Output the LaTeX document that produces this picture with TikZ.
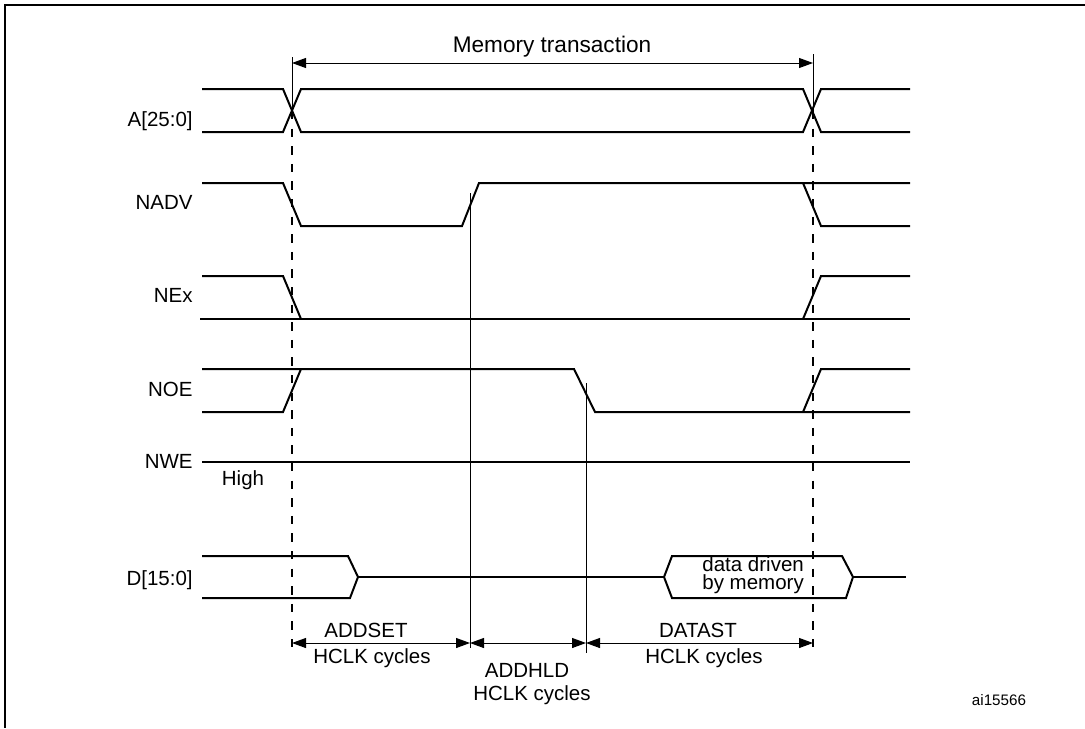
\documentclass[tikz,border=0pt]{standalone}
\usepackage{fontspec}
\setmainfont{Liberation Sans}
\usetikzlibrary{arrows.meta}

\begin{document}
\begin{tikzpicture}[x=0.5pt, y=-0.5pt,
    sig/.style={line width=1pt},
    tick/.style={line width=0.5pt},
    dashtick/.style={line width=0.6pt, dash pattern=on 4.2pt off 4.6pt},
    dim/.style={line width=0.5pt, {Triangle[length=7pt,width=5pt]}-{Triangle[length=7pt,width=5pt]}},
    lbl/.style={font=\fontsize{10.25}{12}\selectfont, inner sep=0pt}]
      \useasboundingbox (0,0) rectangle (1085,728);
      \draw[line width=0.7pt] (1085,5) -- (5,5) -- (5,728);
      % signal names
      \node [lbl, anchor=base east] (lA) at (193,126) {A[25:0]};
      \node [lbl, anchor=base east] (lNADV) at (193,209) {NADV};
      \node [lbl, anchor=base east] (lNEx) at (193,302) {NEx};
      \node [lbl, anchor=base east] (lNOE) at (193,396) {NOE};
      \node [lbl, anchor=base east] (lNWE) at (193,468) {NWE};
      \node [lbl, anchor=base] (lHigh) at (243,485) {High};
      \node [lbl, anchor=base east] (lD) at (193,585) {D[15:0]};
      % waveforms
      \draw[sig] (202,89) -- (283,89) -- (301,132) -- (803,132) -- (821,89) -- (910,89);
      \draw[sig] (202,132) -- (283,132) -- (301,89) -- (803,89) -- (821,132) -- (910,132);
      \draw[sig] (202,183) -- (283,183) -- (301,226) -- (462,226) -- (479,183) -- (910,183);
      \draw[sig] (803,183) -- (821,226) -- (910,226);
      \draw[sig] (202,276) -- (283,276) -- (301,319);
      \draw[sig] (200,319) -- (910,319);
      \draw[sig] (803,319) -- (821,276) -- (910,276);
      \draw[sig] (202,412) -- (283,412) -- (301,369);
      \draw[sig] (202,369) -- (574,369) -- (595,412) -- (910,412);
      \draw[sig] (803,412) -- (821,369) -- (910,369);
      \draw[sig] (202,462) -- (910,462);
      \draw[sig] (202,556) -- (348,556) -- (358,577) -- (350,598) -- (202,598);
      \draw[sig] (358,577) -- (664,577);
      \draw[sig] (664,577) -- (672,556) -- (842,556) -- (853,577) -- (846,598) -- (672,598) -- cycle;
      \draw[sig] (853,577) -- (906,577);
      \node [lbl, anchor=base west, align=left, font=\fontsize{10.25}{8.8}\selectfont] (ldata) at (702,589) {data driven\\by memory};
      % time markers
      \coordinate (t0top) at (292,57);  \coordinate (t0x) at (292,111);  \coordinate (t0bot) at (292,655);
      \coordinate (t3top) at (813,54);  \coordinate (t3x) at (813,111);  \coordinate (t3bot) at (813,649);
      \coordinate (t1top) at (470,193); \coordinate (t1bot) at (470,648);
      \coordinate (t2top) at (586,383); \coordinate (t2bot) at (586,653);
      \draw[tick] (t0top) -- (t0x);
      \draw[dashtick] (t0x) -- (t0bot);
      \draw[tick] (t3top) -- (t3x);
      \draw[dashtick] (t3x) -- (t3bot);
      \draw[tick] (t1top) -- (t1bot);
      \draw[tick] (t2top) -- (t2bot);
      % durations
      \coordinate (m0) at (292,63);  \coordinate (m1) at (813,63);
      \coordinate (s0) at (292,643); \coordinate (s1) at (470,643);
      \coordinate (s2) at (586,643); \coordinate (s3) at (813,643);
      \draw[dim] (m0) -- (m1);
      \draw[dim] (s0) -- (s1);
      \draw[dim] (s1) -- (s2);
      \draw[dim] (s2) -- (s3);
      \node [lbl, anchor=base, font=\fontsize{11.3}{13}\selectfont] (lmem) at (552,52) {Memory transaction};
      \node [lbl, anchor=base] (lset) at (366,637) {ADDSET};
      \node [lbl, anchor=base] (lsetc) at (372,663) {HCLK cycles};
      \node [lbl, anchor=base] (lhld) at (527,677) {ADDHLD};
      \node [lbl, anchor=base] (lhldc) at (532,700) {HCLK cycles};
      \node [lbl, anchor=base] (ldat) at (698,637) {DATAST};
      \node [lbl, anchor=base] (ldatc) at (704,663) {HCLK cycles};
      \node [lbl, anchor=base, font=\fontsize{7.6}{9}\selectfont] (lid) at (999,705) {ai15566};
\end{tikzpicture}
\end{document}
